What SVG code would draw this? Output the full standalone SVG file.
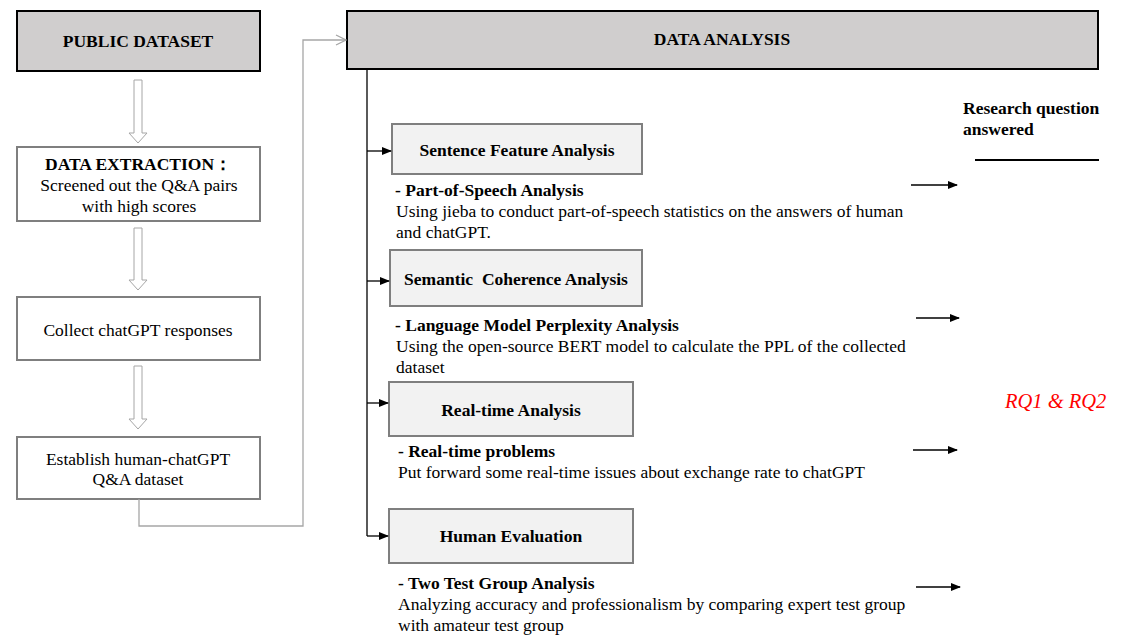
<svg xmlns="http://www.w3.org/2000/svg" width="1121" height="640" viewBox="0 0 1121 640">
<defs>
<style>
text{font-family:"Liberation Serif","Times New Roman",serif;font-size:17.5px;fill:#000}
.b{font-weight:bold}
.c{text-anchor:middle}
.hd{fill:#d0cece;stroke:#000;stroke-width:2}
.lb{fill:#fff;stroke:#7f7f7f;stroke-width:2}
.sb{fill:#f2f2f2;stroke:#7f7f7f;stroke-width:2}
.ha{fill:#fff;stroke:#a6a6a6;stroke-width:1}
.k{stroke:#000;stroke-width:1.3;fill:none}
.g{stroke:#a6a6a6;stroke-width:1.3;fill:none}
</style>
<marker id="ar" markerWidth="10" markerHeight="8" refX="9" refY="4" orient="auto" markerUnits="userSpaceOnUse">
<path d="M0,0 L10,4 L0,8 z" fill="#000"/>
</marker>
<marker id="og" markerWidth="12" markerHeight="12" refX="11" refY="6" orient="auto" markerUnits="userSpaceOnUse">
<path d="M1,1 L11,6 L1,11" fill="none" stroke="#a6a6a6" stroke-width="1.3"/>
</marker>
</defs>

<g id="public-dataset">
<rect class="hd" x="17" y="11" width="243" height="60"/>
<text class="b c" x="138" y="47">PUBLIC DATASET</text>
</g>
<g id="data-extraction">
<rect class="lb" x="17" y="147" width="243" height="74"/>
<text class="b" x="45" y="170">DATA EXTRACTION：</text>
<text class="c" x="139" y="191">Screened out the Q&amp;A pairs</text>
<text class="c" x="139" y="212">with high scores</text>
</g>
<g id="collect">
<rect class="lb" x="17" y="297" width="243" height="63"/>
<text class="c" x="138" y="336">Collect chatGPT responses</text>
</g>
<g id="establish">
<rect class="lb" x="17" y="437" width="243" height="62"/>
<text class="c" x="138" y="465">Establish human-chatGPT</text>
<text class="c" x="138" y="485">Q&amp;A dataset</text>
</g>

<g id="data-analysis">
<rect class="hd" x="347" y="11" width="751" height="58"/>
<text class="b c" x="722" y="45">DATA ANALYSIS</text>
</g>

<g id="sentence">
<rect class="sb" x="392" y="124" width="250" height="50"/>
<text class="b c" x="517" y="156">Sentence Feature Analysis</text>
<text class="b" x="395" y="196">- Part-of-Speech Analysis</text>
<text x="396" y="217">Using jieba to conduct part-of-speech statistics on the answers of human</text>
<text x="396" y="238">and chatGPT.</text>
</g>
<g id="semantic">
<rect class="sb" x="390" y="250" width="252" height="56"/>
<text class="b c" x="516" y="285" xml:space="preserve">Semantic  Coherence Analysis</text>
<text class="b" x="395" y="331">- Language Model Perplexity Analysis</text>
<text x="396" y="352">Using the open-source BERT model to calculate the PPL of the collected</text>
<text x="396" y="373">dataset</text>
</g>
<g id="realtime">
<rect class="sb" x="389" y="382" width="244" height="54"/>
<text class="b c" x="511" y="416">Real-time Analysis</text>
<text class="b" x="398" y="457">- Real-time problems</text>
<text x="398" y="478">Put forward some real-time issues about exchange rate to chatGPT</text>
</g>
<g id="human">
<rect class="sb" x="389" y="509" width="244" height="54"/>
<text class="b c" x="511" y="542">Human Evaluation</text>
<text class="b" x="398" y="589">- Two Test Group Analysis</text>
<text x="398" y="610">Analyzing accuracy and professionalism by comparing expert test group</text>
<text x="398" y="631">with amateur test group</text>
</g>

<g id="research-question">
<text class="b" x="963" y="114">Research question</text>
<text class="b" x="963" y="135">answered</text>
<line x1="975" y1="160" x2="1099" y2="160" stroke="#000" stroke-width="2"/>
<text x="1005" y="408" style="fill:#ff0000;font-style:italic;font-size:20.5px">RQ1 &amp; RQ2</text>
</g>

<g id="connectors">
<path class="ha" d="M134,80 H142 V133 H147 L138,143 L129,133 H134 Z"/>
<path class="ha" d="M134,228 H142 V280 H147 L138,290 L129,280 H134 Z"/>
<path class="ha" d="M134,366 H142 V419 H147 L138,429 L129,419 H134 Z"/>
<path class="g" d="M139,499 V526 H303 V40 H346" marker-end="url(#og)"/>
<path class="k" d="M367,69 V536"/>
<path class="k" d="M367,151 H391" marker-end="url(#ar)"/>
<path class="k" d="M367,281 H389" marker-end="url(#ar)"/>
<path class="k" d="M367,403 H388" marker-end="url(#ar)"/>
<path class="k" d="M367,536 H388" marker-end="url(#ar)"/>
<path class="k" d="M911,185 H957" marker-end="url(#ar)"/>
<path class="k" d="M916,318 H959" marker-end="url(#ar)"/>
<path class="k" d="M913,450 H957" marker-end="url(#ar)"/>
<path class="k" d="M916,587 H960" marker-end="url(#ar)"/>
</g>
</svg>
